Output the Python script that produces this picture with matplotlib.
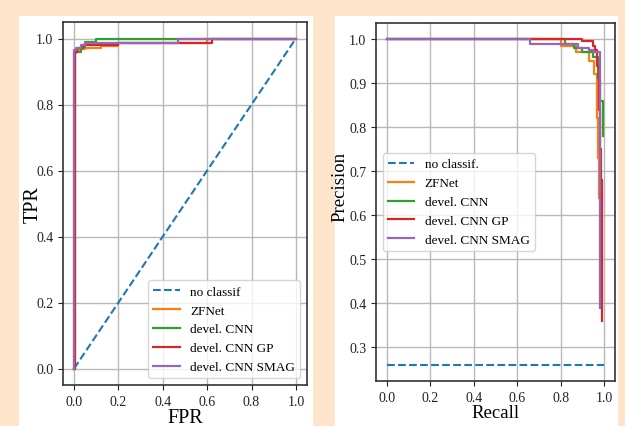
import matplotlib
matplotlib.use("Agg")
import matplotlib.pyplot as plt
from matplotlib.patches import Rectangle

plt.rcParams['font.family'] = ['Liberation Serif', 'DejaVu Serif']

# ---------------- data ----------------
model_names = ["ZFNet", "devel. CNN", "devel. CNN GP", "devel. CNN SMAG"]
model_colors = ["#ff7f0e", "#2ca02c", "#d62728", "#9467bd"]

# ROC curves (FPR, TPR)
roc_noclass_fpr = [0.0, 1.0]
roc_noclass_tpr = [0.0, 1.0]
roc_zfnet_fpr = [0.0, 0.0, 0.008, 0.02, 0.05, 0.12, 0.2, 0.6, 1.0]
roc_zfnet_tpr = [0.0, 0.955, 0.962, 0.967, 0.972, 0.978, 0.985, 1.0, 1.0]
roc_cnn_fpr = [0.0, 0.004, 0.004, 0.03, 0.05, 0.1, 1.0]
roc_cnn_tpr = [0.0, 0.0, 0.96, 0.975, 0.99, 1.0, 1.0]
roc_gp_fpr = [0.0, 0.002, 0.002, 0.015, 0.04, 0.2, 0.62, 1.0]
roc_gp_tpr = [0.0, 0.0, 0.96, 0.97, 0.98, 0.987, 1.0, 1.0]
roc_smag_fpr = [0.0, 0.0, 0.01, 0.03, 0.05, 0.47, 1.0]
roc_smag_tpr = [0.0, 0.965, 0.97, 0.98, 0.985, 1.0, 1.0]

# Precision-Recall curves (Recall, Precision)
pr_noclass_rec = [0.0, 1.0]
pr_noclass_prec = [0.26, 0.26]
pr_zfnet_rec = [0.0, 0.8, 0.87, 0.93, 0.955, 0.965, 0.972, 0.978]
pr_zfnet_prec = [1.0, 0.985, 0.97, 0.95, 0.92, 0.82, 0.73, 0.64]
pr_cnn_rec = [0.0, 0.82, 0.86, 0.9, 0.95, 0.97, 0.98, 0.995]
pr_cnn_prec = [1.0, 0.99, 0.98, 0.97, 0.96, 0.91, 0.86, 0.78]
pr_gp_rec = [0.0, 0.9, 0.95, 0.96, 0.968, 0.975, 0.98, 0.985, 0.99]
pr_gp_prec = [1.0, 0.995, 0.985, 0.975, 0.94, 0.84, 0.75, 0.68, 0.36]
pr_smag_rec = [0.0, 0.66, 0.88, 0.93, 0.95, 0.982]
pr_smag_prec = [1.0, 0.99, 0.98, 0.975, 0.97, 0.39]

roc_fpr = [roc_zfnet_fpr, roc_cnn_fpr, roc_gp_fpr, roc_smag_fpr]
roc_tpr = [roc_zfnet_tpr, roc_cnn_tpr, roc_gp_tpr, roc_smag_tpr]
pr_rec = [pr_zfnet_rec, pr_cnn_rec, pr_gp_rec, pr_smag_rec]
pr_prec = [pr_zfnet_prec, pr_cnn_prec, pr_gp_prec, pr_smag_prec]

# ---------------- figure ----------------
fig = plt.figure(figsize=(6.25, 4.27), dpi=100, facecolor="#fde4cb")
fig.patches.append(Rectangle((19/625, 0), 294/625, 410/427, transform=fig.transFigure,
                             facecolor="white", edgecolor="none", zorder=-5))
fig.patches.append(Rectangle((335/625, 0), 283/625, 410/427, transform=fig.transFigure,
                             facecolor="white", edgecolor="none", zorder=-5))

ax1 = fig.add_axes([63/625, 1 - 386/427, 244/625, 363/427])
ax2 = fig.add_axes([376/625, 1 - 382/427, 239/625, 358/427])

for ax in (ax1, ax2):
    ax.grid(True, color="#b8b8b8", linewidth=1.0)
    ax.set_axisbelow(True)
    for s in ax.spines.values():
        s.set_color("#333333")
        s.set_linewidth(1.2)
    ax.tick_params(labelsize=10, colors="#222222", length=3.5)

# ROC
ax1.plot(roc_noclass_fpr, roc_noclass_tpr, "--", color="#1f77b4", lw=1.5, label="no classif")
for f, t, n, c in zip(roc_fpr, roc_tpr, model_names, model_colors):
    ax1.plot(f, t, color=c, lw=1.6, label=n, drawstyle="steps-post")
ax1.set_xlabel("FPR", fontsize=14.5, labelpad=0)
ax1.set_ylabel("TPR", fontsize=14.5)
ax1.yaxis.set_label_coords(-0.082, 0.5)
ax1.set_xticks([0.0, 0.2, 0.4, 0.6, 0.8, 1.0])
ax1.set_yticks([0.0, 0.2, 0.4, 0.6, 0.8, 1.0])
ax1.legend(loc="lower right", fontsize=9.5, framealpha=0.8)

# Precision-Recall
ax2.plot(pr_noclass_rec, pr_noclass_prec, "--", color="#1f77b4", lw=1.5, label="no classif.")
for r, p, n, c in zip(pr_rec, pr_prec, model_names, model_colors):
    ax2.plot(r, p, color=c, lw=1.6, label=n, drawstyle="steps-post")
ax2.set_xlabel("Recall", fontsize=13.5, labelpad=0)
ax2.set_ylabel("Precision", fontsize=13.5)
ax2.yaxis.set_label_coords(-0.115, 0.545)
ax2.set_xticks([0.0, 0.2, 0.4, 0.6, 0.8, 1.0])
ax2.set_yticks([0.3, 0.4, 0.5, 0.6, 0.7, 0.8, 0.9, 1.0])
ax2.legend(loc="center left", bbox_to_anchor=(0.0, 0.5), fontsize=9.5, framealpha=0.8)

fig.savefig("out.png", dpi=100)
